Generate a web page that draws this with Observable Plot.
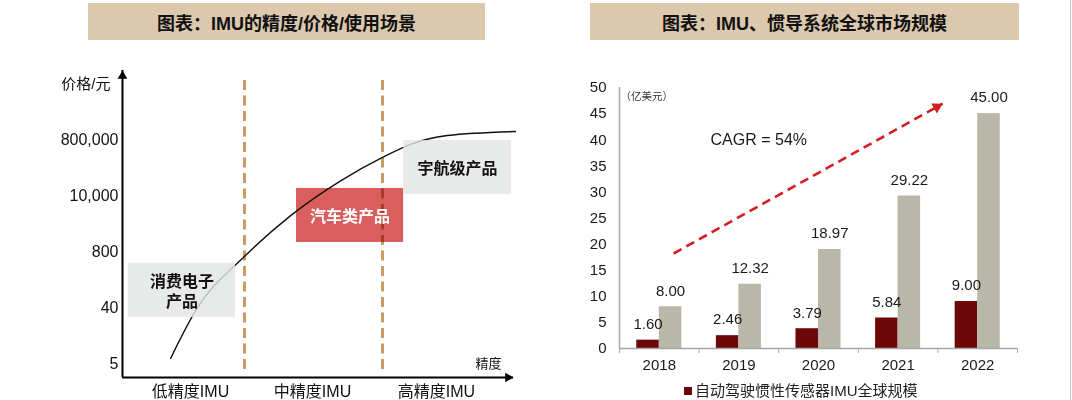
<!DOCTYPE html>
<html>
<head>
<meta charset="utf-8">
<script src="https://cdn.jsdelivr.net/npm/d3@7"></script>
<script src="https://cdn.jsdelivr.net/npm/@observablehq/plot@0.6"></script>
<style>
  body { margin: 0; background: #fff; font-family: "Liberation Sans", "Noto Sans CJK SC", sans-serif; }
  #root { position: relative; width: 1072px; height: 400px; overflow: hidden; background: #fff; }
  .panel { position: absolute; top: 0; width: 536px; height: 400px; }
  .panel svg { position: absolute; left: 0; top: 0; }
  .title { position: absolute; top: 3px; height: 37px; background: #dcc8ad; color: #111;
           font-weight: bold; font-size: 18px; display: flex; align-items: center; justify-content: center; z-index: 2; }
  .legend { position: absolute; top: 382px; left: 148px; font-size: 15px; line-height: 18px; color: #222; white-space: nowrap; z-index: 2; }
  .legend .sw { display: inline-block; width: 8px; height: 8px; background: #6e0808; margin-right: 3px; vertical-align: 1px; }
  .edge { position: absolute; left: 1070px; top: 0; width: 1px; height: 400px; background: #c8c8c8; }
</style>
</head>
<body>
<div id="root">
  <div class="panel" id="left"><div class="title" style="left:88px;width:397px">图表：IMU的精度/价格/使用场景</div></div>
  <div class="panel" id="right" style="left:536px"><div class="title" style="left:54px;width:429px">图表：IMU、惯导系统全球市场规模</div></div>
  <div class="edge"></div>
</div>
<script>
// ---------------- Left panel data ----------------
const priceLabels = ["5", "40", "800", "10,000", "800,000"];
const priceLevels = [0, 1, 2, 3, 4];
const precisionLabels = ["低精度IMU", "中精度IMU", "高精度IMU"];
const precisionCenters = [17.4, 48.6, 80.3];
const precisionBounds = [31.2, 66.5];
const curvePrecision = [12.3, 19.2, 30.9, 43.0, 56.0, 66.5, 74.4, 83.1, 100.5];
const curveLevel = [0.09, 1.0, 1.89, 2.64, 3.27, 3.68, 3.93, 4.07, 4.14];
const segmentNames = ["消费电子\n产品", "汽车类产品", "宇航级产品"];
const segmentX1 = [1.5, 44.5, 71.9];
const segmentX2 = [28.9, 71.9, 99.5];
const segmentY1 = [0.82, 2.16, 3.02];
const segmentY2 = [1.79, 3.125, 3.98];
const highlightSegment = "汽车类产品";
const priceAxisTitle = "价格/元";
const precisionAxisTitle = "精度";

// ---------------- Right panel data ----------------
const years = ["2018", "2019", "2020", "2021", "2022"];
const imuAutoMarket = [1.60, 2.46, 3.79, 5.84, 9.00];
const inertialMarket = [8.00, 12.32, 18.97, 29.22, 45.00];
const valueTicks = [0, 5, 10, 15, 20, 25, 30, 35, 40, 45, 50];
const unitLabel = "（亿美元）";
const cagrLabel = "CAGR = 54%";
const cagrPosition = [1.75, 40];
const trendFrom = [0.68, 18.2];
const trendTo = [4.06, 46.9];
const legendLabel = "自动驾驶惯性传感器IMU全球规模";

const FONT = '"Liberation Sans", "Noto Sans CJK SC", sans-serif';
const RED_BAR = "#6e0808";
const GRAY_BAR = "#b8b7a8";

// ---------------- Left chart ----------------
const curve = curvePrecision.map((x, i) => ({x, y: curveLevel[i]}));
const segments = segmentNames.map((name, i) => ({
  name, x1: segmentX1[i], x2: segmentX2[i], y1: segmentY1[i], y2: segmentY2[i]
}));
const yDomL = [-0.25, 5.23];
const xDomL = [0, 100];

const left = Plot.plot({
  width: 536, height: 400,
  marginLeft: 122, marginRight: 23, marginTop: 70, marginBottom: 23,
  style: {fontFamily: FONT, fontSize: "16px", background: "transparent", overflow: "visible", color: "#111"},
  x: {domain: xDomL},
  y: {domain: yDomL},
  marks: [
    Plot.rect(segments.filter(d => d.name === highlightSegment),
      {x1: "x1", x2: "x2", y1: "y1", y2: "y2", fill: "#d95e5e"}),
    Plot.ruleX(precisionBounds, {stroke: "#c99b66", strokeWidth: 3, strokeDasharray: "10,5.5",
      insetTop: 10, insetBottom: 4, mixBlendMode: "multiply"}),
    Plot.line(curve, {x: "x", y: "y", curve: "monotone-x", stroke: "#111", strokeWidth: 1.4}),
    Plot.rect(segments.filter(d => d.name !== highlightSegment),
      {x1: "x1", x2: "x2", y1: "y1", y2: "y2", fill: "#e3e4e4", fillOpacity: 0.82}),
    Plot.text(segments, {x: d => (d.x1 + d.x2) / 2, y: d => (d.y1 + d.y2) / 2, text: "name",
      fontWeight: "bold", fontSize: 16, lineHeight: 1.25,
      fill: d => d.name === highlightSegment ? "#fff" : "#111"}),
    // axes lines with filled arrow heads
    Plot.ruleX([xDomL[0]], {stroke: "#000", strokeWidth: 2}),
    Plot.ruleY([yDomL[0]], {stroke: "#000", strokeWidth: 2}),
    Plot.dot([[xDomL[0], yDomL[1]]], {x: d => d[0], y: d => d[1], symbol: "triangle", r: 3.6, fill: "#000", dy: 5.5}),
    Plot.dot([[xDomL[1], yDomL[0]]], {x: d => d[0], y: d => d[1], symbol: "triangle", r: 3.6, fill: "#000", rotate: 90, dx: -5.5}),
    Plot.axisY({ticks: priceLevels, tickFormat: d => priceLabels[d], tickSize: 0, tickPadding: 4, label: null, fontSize: 16}),
    Plot.axisX({ticks: precisionCenters, tickFormat: d => precisionLabels[precisionCenters.indexOf(d)],
      tickSize: 0, tickPadding: 8, label: null, fontSize: 16}),
    Plot.text([priceAxisTitle], {frameAnchor: "top-left", text: d => d, textAnchor: "end", dx: -12, dy: 8, fontSize: 15}),
    Plot.text([precisionAxisTitle], {frameAnchor: "bottom-right", text: d => d, textAnchor: "end", dx: -12, dy: -10, fontSize: 13})
  ]
});
document.getElementById("left").appendChild(left);

// ---------------- Right chart ----------------
const BAR_W = 0.283;
const rows = years.map((year, i) => ({i, year, auto: imuAutoMarket[i], inertial: inertialMarket[i]}));
const yearCenters = years.map((_, i) => i + 0.5);
const bounds = d3.range(years.length + 1);

const right = Plot.plot({
  width: 536, height: 400,
  marginLeft: 83, marginRight: 55, marginTop: 87, marginBottom: 52,
  style: {fontFamily: FONT, fontSize: "15px", background: "transparent", overflow: "visible", color: "#1a1a1a"},
  x: {domain: [0, years.length]},
  y: {domain: [0, 50]},
  marks: [
    Plot.rectY(rows, {x1: d => d.i + 0.5 - BAR_W, x2: d => d.i + 0.5, y: "auto", fill: RED_BAR}),
    Plot.rectY(rows, {x1: d => d.i + 0.5, x2: d => d.i + 0.5 + BAR_W, y: "inertial", fill: GRAY_BAR}),
    Plot.text(rows, {x: d => d.i + 0.5 - BAR_W / 2, y: "auto", text: d => d.auto.toFixed(2), dy: -16, fontSize: 15}),
    Plot.text(rows, {x: d => d.i + 0.5 + BAR_W / 2, y: "inertial", text: d => d.inertial.toFixed(2), dy: -16, fontSize: 15}),
    Plot.ruleX([0], {y1: 0, y2: 50, stroke: "#a8a8a8", strokeWidth: 1.5}),
    Plot.ruleY([0], {x1: 0, x2: years.length, stroke: "#a8a8a8", strokeWidth: 1.5}),
    Plot.axisX({ticks: bounds, tickFormat: () => "", tickSize: 5, stroke: "#a8a8a8", label: null}),
    Plot.axisX({ticks: yearCenters, tickFormat: d => years[Math.round(d - 0.5)], tickSize: 0, tickPadding: 11, label: null, fontSize: 15}),
    Plot.axisY({ticks: valueTicks, tickSize: 0, tickPadding: 13, label: null, fontSize: 15}),
    Plot.text([unitLabel], {frameAnchor: "top-left", text: d => d, textAnchor: "start", dx: 1, dy: 5, fontSize: 10.5, fill: "#333"}),
    Plot.text([cagrLabel], {x: () => cagrPosition[0], y: () => cagrPosition[1], text: d => d, fontSize: 16}),
    Plot.link([[trendFrom, trendTo]], {x1: d => d[0][0], y1: d => d[0][1], x2: d => d[1][0], y2: d => d[1][1],
      stroke: "#d11f24", strokeWidth: 2.6, strokeDasharray: "9,5.5"}),
    Plot.dot([trendTo], {x: d => d[0], y: d => d[1], symbol: "triangle", r: 4.2, fill: "#d11f24", rotate: 61, dx: -5.7, dy: 3.2})
  ]
});
document.getElementById("right").appendChild(right);

const legend = document.createElement("div");
legend.className = "legend";
legend.innerHTML = '<span class="sw"></span>' + legendLabel;
document.getElementById("right").appendChild(legend);
</script>
</body>
</html>
